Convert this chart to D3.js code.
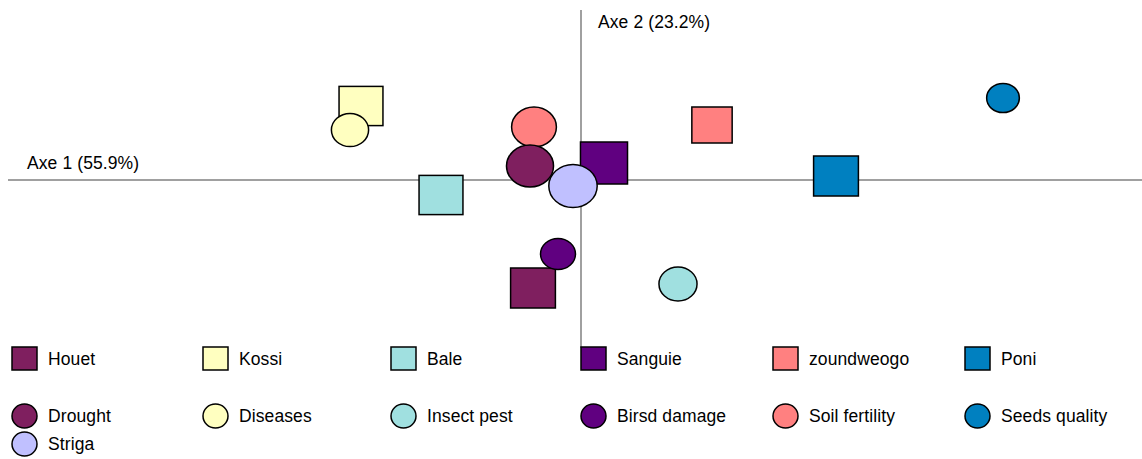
<!DOCTYPE html>
<html><head><meta charset="utf-8">
<script src="https://cdn.jsdelivr.net/npm/d3@7/dist/d3.min.js"></script>
<style>body{margin:0;background:#fff}svg{display:block}text{font-family:"Liberation Sans",Arial,sans-serif;fill:#000}</style>
</head><body>
<svg id="c" width="1142" height="459"></svg>
<script>
// Observations (squares)
const obsNames = ["Houet","Kossi","Bale","Sanguie","zoundweogo","Poni"];
const obsX = [-0.48,-2.20,-1.40,0.23,1.31,2.55];
const obsY = [-1.08,0.74,-0.15,0.17,0.55,0.04];
const obsW = [1.0,0.98,0.98,1.05,0.9,1.0];
// Variables (circles)
const varNames = ["Drought","Diseases","Insect pest","Birsd damage","Soil fertility","Seeds quality","Striga"];
const varX = [-0.51,-2.31,0.97,-0.23,-0.47,4.22,-0.08];
const varY = [0.14,0.50,-1.04,-0.74,0.53,0.82,-0.06];
const varW = [1.05,0.83,0.85,0.78,1.0,0.73,1.08];
const axisLabels = ["Axe 1 (55.9%)","Axe 2 (23.2%)"];

const obsColors = ["#7f1f5f","#ffffc0","#a0e0e0","#600080","#ff8080","#0080c0"];
const varColors = ["#7f1f5f","#ffffc0","#a0e0e0","#600080","#ff8080","#0080c0","#c0c0ff"];

const svg = d3.select("#c");
const x = d3.scaleLinear().domain([-5.73,5.61]).range([8,1142]);
const y = d3.scaleLinear().domain([-1.68,1.70]).range([348,10]);
const h = d3.scaleLinear().domain([0,1]).range([0,40]);
const asp = 1.12;
const fs = 17.5, ls = 0.1;

// axes
svg.append("line").attr("x1",x(-5.73)).attr("x2",x(5.61)).attr("y1",y(0)).attr("y2",y(0))
  .attr("stroke","#808080").attr("stroke-width",1.5);
svg.append("line").attr("x1",x(0)).attr("x2",x(0)).attr("y1",y(1.70)).attr("y2",y(-1.68))
  .attr("stroke","#808080").attr("stroke-width",1.5);
svg.append("text").attr("x",27).attr("y",169).attr("font-size",fs).attr("letter-spacing",ls).text(axisLabels[0]);
svg.append("text").attr("x",x(0)+17).attr("y",28).attr("font-size",fs).attr("letter-spacing",ls).text(axisLabels[1]);

const obs = obsNames.map((n,i)=>({n,x:obsX[i],y:obsY[i],w:obsW[i],c:obsColors[i]}));
const vars = varNames.map((n,i)=>({n,x:varX[i],y:varY[i],w:varW[i],c:varColors[i]}));

svg.append("g").selectAll("rect").data(obs).join("rect")
  .attr("x",d=>x(d.x)-h(d.w)*asp/2).attr("y",d=>y(d.y)-h(d.w)/2)
  .attr("width",d=>h(d.w)*asp).attr("height",d=>h(d.w))
  .attr("fill",d=>d.c).attr("stroke","#000").attr("stroke-width",1.5);

const drawOrder = [4,0,1,2,3,5,6];
svg.append("g").selectAll("ellipse").data(drawOrder.map(i=>vars[i])).join("ellipse")
  .attr("cx",d=>x(d.x)).attr("cy",d=>y(d.y))
  .attr("rx",d=>h(d.w)*asp/2).attr("ry",d=>h(d.w)/2)
  .attr("fill",d=>d.c).attr("stroke","#000").attr("stroke-width",1.5);

// legend
const colX = [12,203,391,581,773,965];
const leg = svg.append("g");
obs.forEach((d,i)=>{
  leg.append("rect").attr("x",colX[i]).attr("y",347).attr("width",25).attr("height",23)
    .attr("fill",d.c).attr("stroke","#000").attr("stroke-width",1.5);
  leg.append("text").attr("x",colX[i]+36).attr("y",365).attr("font-size",fs).attr("letter-spacing",ls).text(d.n);
});
vars.forEach((d,i)=>{
  const col = i%6, row = Math.floor(i/6);
  const cy = row===0 ? 416 : 444;
  leg.append("ellipse").attr("cx",colX[col]+12.5).attr("cy",cy).attr("rx",12.5).attr("ry",12)
    .attr("fill",d.c).attr("stroke","#000").attr("stroke-width",1.5);
  leg.append("text").attr("x",colX[col]+36).attr("y",cy+6).attr("font-size",fs).attr("letter-spacing",ls).text(d.n);
});
</script>
</body></html>
